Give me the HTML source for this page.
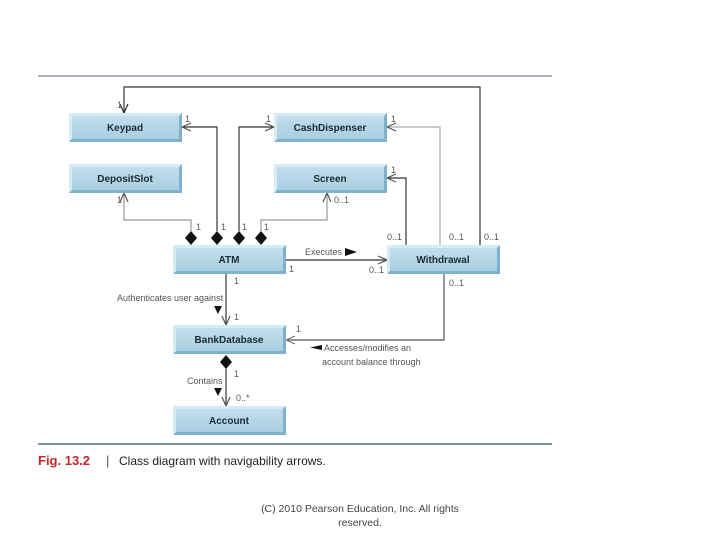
<!DOCTYPE html>
<html><head><meta charset="utf-8"><style>
body{margin:0;background:#fff;width:720px;height:540px;overflow:hidden;font-family:"Liberation Sans",sans-serif}
</style></head><body>
<svg width="720" height="540" viewBox="0 0 720 540" xmlns="http://www.w3.org/2000/svg" font-family="Liberation Sans, sans-serif">
<defs>
<linearGradient id="g" x1="0" y1="0" x2="0" y2="1"><stop offset="0" stop-color="#c4e0ee"/><stop offset="1" stop-color="#a6cce0"/></linearGradient>
<g id="box">
<rect x="0" y="0" width="113" height="29" fill="url(#g)"/>
<polygon points="113,0 113,29 0,29 3,26 110,26 110,3" fill="#7fb0cc"/>
<polygon points="0,0 113,0 110,3 3,3 3,26 0,29" fill="#d6ebf5"/>
</g>
</defs>
<line x1="38" y1="76" x2="552" y2="76" stroke="#5a6a80" stroke-width="1"/>
<line x1="38" y1="444" x2="552" y2="444" stroke="#3a4a66" stroke-width="1.2"/>

<g fill="none" stroke-width="1.2">
<!-- Withdrawal to Keypad -->
<polyline points="480,245 480,87 124,87 124,113" stroke="#333"/>
<polyline points="120,104 124,113 128,104" stroke="#333"/>
<!-- diamond1 to DepositSlot -->
<polyline points="191,231 191,220 124,220 124,193" stroke="#999"/>
<polyline points="120,202 124,193 128,202" stroke="#555"/>
<!-- diamond2 to Keypad -->
<polyline points="217,231 217,127 182,127" stroke="#333"/>
<polyline points="191,123 182,127 191,131" stroke="#555"/>
<!-- diamond3 to CashDispenser -->
<polyline points="239,231 239,127 274,127" stroke="#333"/>
<polyline points="265,123 274,127 265,131" stroke="#555"/>
<!-- diamond4 to Screen -->
<polyline points="261,231 261,220 327,220 327,193" stroke="#999"/>
<polyline points="323,202 327,193 331,202" stroke="#555"/>
<!-- Withdrawal to Screen -->
<polyline points="406,245 406,178 387,178" stroke="#333"/>
<polyline points="396,174 387,178 396,182" stroke="#555"/>
<!-- Withdrawal to CashDispenser -->
<polyline points="440,245 440,127 387,127" stroke="#aaa"/>
<polyline points="396,123 387,127 396,131" stroke="#555"/>
<!-- ATM to Withdrawal -->
<line x1="286" y1="260" x2="387" y2="260" stroke="#333"/>
<polyline points="378,256 387,260 378,264" stroke="#555"/>
<!-- ATM to BankDatabase -->
<line x1="226" y1="273" x2="226" y2="325" stroke="#333"/>
<polyline points="222,316 226,325 230,316" stroke="#555"/>
<!-- Withdrawal to BankDatabase -->
<polyline points="444,273 444,340 286,340" stroke="#555"/>
<polyline points="295,336 286,340 295,344" stroke="#777"/>
<!-- BankDatabase to Account -->
<line x1="226" y1="369" x2="226" y2="406" stroke="#333"/>
<polyline points="222,397 226,406 230,397" stroke="#555"/>
</g>
<g fill="#111">
<polygon points="191,231 197,238 191,245 185,238"/>
<polygon points="217,231 223,238 217,245 211,238"/>
<polygon points="239,231 245,238 239,245 233,238"/>
<polygon points="261,231 267,238 261,245 255,238"/>
<polygon points="229,355 235,362 229,369 223,362" transform="translate(-3,0)"/>
<polygon points="345,248 357,252 345,256"/>
<polygon points="214,306 222,306 218,314"/>
<polygon points="214,388 222,388 218,396"/>
<polygon points="322,347 310,344.5 322,342" transform="translate(0,3)"/>
</g>

<use href="#box" x="69" y="113"/>
<use href="#box" x="69" y="164"/>
<use href="#box" x="274" y="113"/>
<use href="#box" x="274" y="164"/>
<use href="#box" x="173" y="245"/>
<use href="#box" x="387" y="245"/>
<use href="#box" x="173" y="325"/>
<use href="#box" x="173" y="406"/>

<g font-size="10" font-weight="bold" fill="#1a2a3a" text-anchor="middle">
<text x="125" y="131">Keypad</text>
<text x="125" y="182">DepositSlot</text>
<text x="330" y="131">CashDispenser</text>
<text x="330" y="182">Screen</text>
<text x="229" y="263">ATM</text>
<text x="443" y="263">Withdrawal</text>
<text x="229" y="343">BankDatabase</text>
<text x="229" y="424">Account</text>
</g>
<g font-size="9" fill="#555">
<text x="117" y="108">1</text>
<text x="185" y="122">1</text>
<text x="266" y="122">1</text>
<text x="391" y="122">1</text>
<text x="391" y="173">1</text>
<text x="117" y="203">1</text>
<text x="334" y="203">0..1</text>
<text x="196" y="230">1</text>
<text x="221" y="230">1</text>
<text x="242" y="230">1</text>
<text x="264" y="230">1</text>
<text x="387" y="240">0..1</text>
<text x="449" y="240">0..1</text>
<text x="484" y="240">0..1</text>
<text x="289" y="272">1</text>
<text x="369" y="273">0..1</text>
<text x="449" y="286">0..1</text>
<text x="234" y="284">1</text>
<text x="234" y="320">1</text>
<text x="296" y="332">1</text>
<text x="234" y="377">1</text>
<text x="236" y="401">0..*</text>
<text x="305" y="255">Executes</text>
<text x="117" y="301">Authenticates user against</text>
<text x="324" y="351">Accesses/modifies an</text>
<text x="322" y="365">account balance through</text>
<text x="187" y="384">Contains</text>
</g>
<text x="38" y="465" font-size="13" font-weight="bold" fill="#c0282d">Fig. 13.2</text>
<text x="106" y="465" font-size="13" fill="#555">|</text>
<text x="119" y="465" font-size="12" fill="#222">Class diagram with navigability arrows.</text>
<g font-size="10.5" fill="#444" text-anchor="middle">
<text x="360" y="512">(C) 2010 Pearson Education, Inc.  All rights</text>
<text x="360" y="526">reserved.</text>
</g>
</svg>
</body></html>
